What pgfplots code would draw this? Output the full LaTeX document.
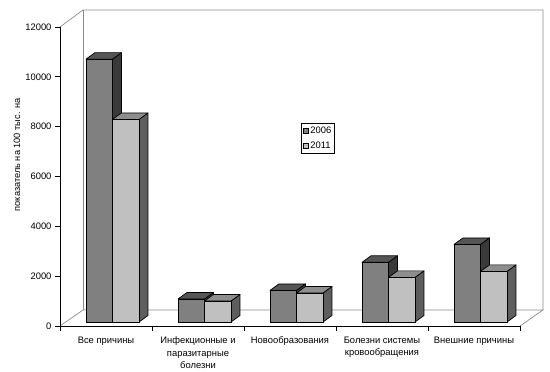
\documentclass[border=0pt]{standalone}
\usepackage{pgfplots}
\pgfplotsset{compat=1.18}
\usepackage{fontspec}
\setmainfont{Liberation Sans}
\definecolor{fA}{HTML}{808080}
\definecolor{tA}{HTML}{555555}
\definecolor{sA}{HTML}{3A3A3A}
\definecolor{fB}{HTML}{C0C0C0}
\definecolor{tB}{HTML}{8E8E8E}
\definecolor{sB}{HTML}{5E5E5E}
\definecolor{wall}{HTML}{8C8C8C}
\newcommand{\barbox}[4]{%
  \pgfmathsetmacro\bh{\ry*0.0249167}%
  \pgfmathsetmacro\xa{#1}%
  \pgfmathsetmacro\xb{#1+26.5}%
  \pgfmathsetmacro\xc{#1+9}%
  \pgfmathsetmacro\xd{#1+35.5}%
  \pgfmathsetmacro\yb{4-\bh}%
  \pgfmathsetmacro\ybb{10.5-\bh}%
  \filldraw[fill=#4,draw=black,line width=0.7pt,line join=round] (\xb pt,4pt)--(\xd pt,10.5pt)--(\xd pt,\ybb pt)--(\xb pt,\yb pt)--cycle;
  \filldraw[fill=#3,draw=black,line width=0.7pt,line join=round] (\xa pt,4pt)--(\xb pt,4pt)--(\xd pt,10.5pt)--(\xc pt,10.5pt)--cycle;
  \filldraw[fill=#2,draw=black,line width=0.7pt] (\xa pt,\yb pt) rectangle (\xb pt,4pt);
}
\begin{document}
\begin{tikzpicture}
\useasboundingbox (-60pt,-46pt) rectangle (490pt,326pt);
\draw[wall, line width=0.7pt] (0pt,0pt)--(23pt,16pt)--(483pt,16pt)--(460pt,0pt);
\draw[wall, line width=0.7pt] (0pt,299pt)--(23pt,316pt)--(483pt,316pt)--(483pt,16pt);
\draw[wall, line width=0.7pt] (23pt,16pt)--(23pt,316pt);
\begin{axis}[at={(0pt,0pt)}, anchor=south west, scale only axis,
  width=460pt, height=299pt, clip=false,
  xmin=-0.5, xmax=4.5, ymin=0, ymax=12000,
  axis x line=bottom, axis y line=left,
  axis line style={-, black, line width=0.7pt},
  every tick/.style={black, line width=0.7pt},
  ytick={0,2000,...,12000}, tick align=outside, major tick length=5pt,
  scaled y ticks=false,
  yticklabel style={/pgf/number format/1000 sep={}, /pgf/number format/assume math mode=true},
  tick label style={font=\fontsize{9.4}{11}\selectfont},
  xtick={-0.5,0.5,...,4.5}, xticklabels={},
  extra x ticks={0,1,2,3,4},
  extra x tick labels={Все причины, {Инфекционные и\\паразитарные\\болезни}, Новообразования, {Болезни системы\\кровообращения}, Внешние причины},
  extra x tick style={major tick length=0pt, xticklabel style={align=center, yshift=-7.5pt, font=\fontsize{9.4}{12.3}\selectfont}},
  ylabel={показатель на 100 тыс. на},
  ylabel style={at={(axis description cs:-0.0935,0.572)}, anchor=center, font=\fontsize{9.2}{11}\selectfont},
  legend style={at={(axis description cs:0.524,0.68)}, anchor=north west, draw=black, line width=0.7pt, font=\fontsize{9.4}{10}\selectfont, inner sep=1.5pt, row sep=3pt, cells={anchor=west}},
]
\addplot[scatter, only marks, mark=text, text mark={},
  visualization depends on={rawy \as \ry},
  scatter/@pre marker code/.code={\barbox{-20}{fA}{tA}{sA}},
  scatter/@post marker code/.code={},
  legend image code/.code={\draw[fill=fA,line width=0.5pt] (0pt,-2.5pt) rectangle (5pt,2.5pt);}]
  coordinates {(0,10550) (1,923) (2,1268) (3,2396) (4,3114)};
\addlegendentry{2006}
\addplot[scatter, only marks, mark=text, text mark={},
  visualization depends on={rawy \as \ry},
  scatter/@pre marker code/.code={\barbox{6.5}{fB}{tB}{sB}},
  scatter/@post marker code/.code={},
  legend image code/.code={\draw[fill=fB,line width=0.5pt] (0pt,-2.5pt) rectangle (5pt,2.5pt);}]
  coordinates {(0,8130) (1,843) (2,1164) (3,1790) (4,2031)};
\addlegendentry{2011}
\end{axis}
\end{tikzpicture}
\end{document}
